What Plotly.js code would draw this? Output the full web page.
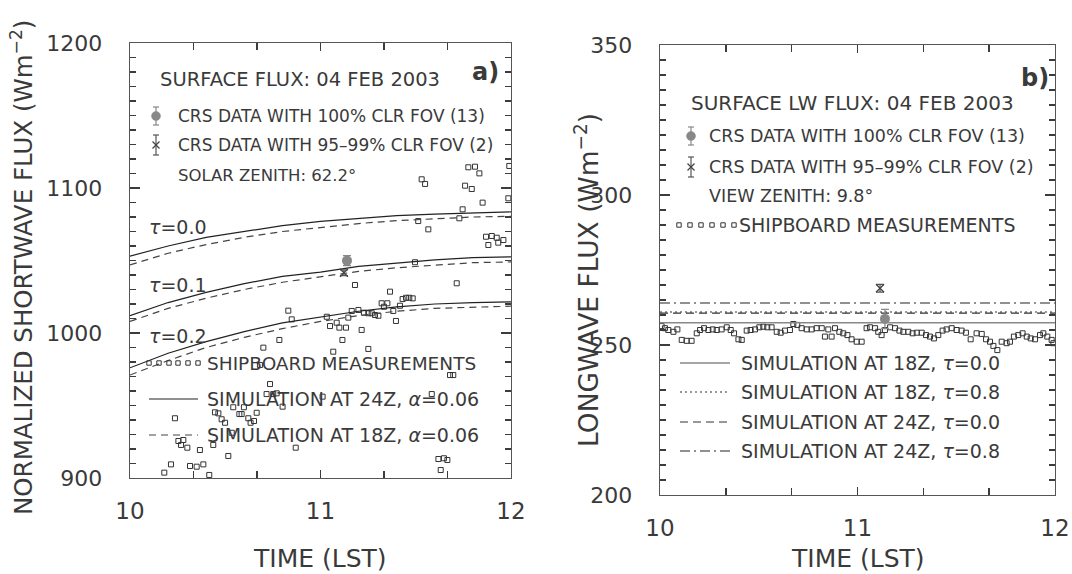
<!DOCTYPE html>
<html>
<head>
<meta charset="utf-8">
<script src="https://cdn.plot.ly/plotly-3.0.1.min.js"></script>
<style>
html,body{margin:0;padding:0;background:#fff;}
#chart{width:1072px;height:574px;}
</style>
</head>
<body>
<div id="chart"></div>
<script>
// ---------- DATA ----------
// Panel a) shipboard shortwave measurements
var shipT_sw = [11.531,11.549,11.776,11.811,11.834,11.759,11.794,11.851,11.746,11.986,11.991,11.513,11.729,11.566,11.869,11.899,11.925,11.960,11.881,11.933,
 11.496,11.181,11.715,11.365,11.431,11.449,11.466,11.484,10.831,10.849,11.033,11.164,11.199,11.146,11.228,11.251,11.269,11.286,11.304,11.321,
 11.351,11.333,11.382,11.417,11.396,11.050,11.085,11.099,11.134,11.216,11.115,10.784,10.700,11.067,11.251,10.682,11.680,11.697,10.735,10.717,
 10.752,10.770,10.801,11.011,11.584,10.236,10.446,10.464,10.481,10.499,10.542,10.574,10.586,10.598,10.621,10.633,10.651,10.665,10.534,10.254,
 10.280,10.268,10.301,10.367,10.437,10.516,10.870,10.215,10.180,10.315,10.350,10.385,10.416,11.619,11.648,11.666,11.631];
var shipV_sw = [1106.0,1102.8,1114.3,1114.7,1110.1,1101.6,1099.3,1089.9,1085.3,1092.9,1115.2,1077.2,1079.1,1071.5,1066.4,1066.9,1065.7,1064.1,1060.7,1062.3,
 1048.8,1033.1,1034.3,1028.5,1023.4,1024.3,1024.3,1023.9,1015.4,1009.4,1011.2,1015.2,1015.9,1010.6,1014.0,1013.6,1013.6,1012.4,1011.9,1020.5,
 1020.5,1018.1,1015.2,1018.8,1008.3,1004.8,1007.1,1003.7,1003.7,1002.1,995.2,995.2,989.9,987.1,989.0,977.9,971.0,971.0,964.8,957.9,
 957.9,958.4,949.2,956.1,957.9,941.2,945.3,944.6,940.5,938.1,948.8,944.1,944.1,948.8,941.2,938.1,939.3,945.0,931.2,925.5,
 926.2,922.8,920.9,919.3,922.8,915.2,920.9,909.4,903.7,908.3,907.8,909.4,902.1,913.1,913.6,912.4,905.5];

// Panel a) simulations (time grid and fluxes)
var simT_sw = [10.0,10.2,10.4,10.6,10.8,11.0,11.2,11.4,11.6,11.8,12.0];
var sw24_tau00 = [1053,1060,1066,1070,1074,1077,1079,1081,1082,1083,1083.5];
var sw18_tau00 = [1047,1055,1061,1066,1070,1073,1075.5,1077.5,1079,1080,1080.5];
var sw24_tau01 = [1012,1021,1028,1034,1039,1042,1046,1048.5,1050.5,1052,1052.5];
var sw18_tau01 = [1008,1017,1024,1030,1035,1039,1042.5,1045,1047,1048.5,1049];
var sw24_tau02 = [976,986,994,1001,1007,1011,1015,1018,1020,1021,1021.5];
var sw18_tau02 = [971,981,990,997,1003,1008,1012,1015,1017,1018,1018.5];

// Panel a) CRS data
var crsClrT_sw = [11.139], crsClrV_sw = [1049.9], crsClrE_sw = [3.5];
var crsPartT_sw = [11.123], crsPartV_sw = [1041.6], crsPartE_sw = [2.0];

// Panel b) shipboard longwave measurements
var shipT_lw = [10.008,10.025,10.042,10.068,10.088,10.110,10.135,10.160,10.186,10.203,10.223,10.245,10.267,10.287,10.312,10.338,10.358,10.375,10.397,10.414,
 10.439,10.459,10.481,10.503,10.523,10.543,10.565,10.591,10.611,10.633,10.658,10.675,10.695,10.717,10.743,10.768,10.793,10.819,10.835,10.852,
 10.869,10.886,10.908,10.928,10.949,10.970,10.996,11.021,11.046,11.063,11.089,11.105,11.122,11.139,11.165,11.190,11.212,11.232,11.257,11.279,
 11.300,11.325,11.347,11.367,11.387,11.409,11.431,11.451,11.477,11.502,11.527,11.549,11.573,11.603,11.629,11.651,11.671,11.688,11.708,11.730,
 11.755,11.772,11.792,11.814,11.836,11.857,11.877,11.899,11.924,11.941,11.961,11.983,11.992];
var shipV_lw = [256.3,255.6,255.0,254.4,255.2,251.7,251.4,251.4,253.9,255.0,255.6,255.0,255.2,255.0,255.2,255.9,255.0,253.9,251.9,251.7,
 254.8,255.0,255.2,255.9,256.1,255.9,255.9,254.4,254.1,254.8,255.0,257.0,256.7,255.6,255.2,255.2,255.6,255.6,252.8,255.2,
 252.8,255.6,254.4,253.9,253.3,251.9,251.1,251.1,255.6,255.9,255.6,254.4,253.3,255.0,255.9,255.6,254.8,254.4,254.4,253.9,
 254.1,254.1,253.3,252.8,252.2,253.3,254.8,255.2,255.6,255.0,254.8,254.1,251.9,253.9,253.7,251.9,251.1,249.7,248.3,251.1,
 250.6,251.1,252.8,253.3,253.9,252.8,252.2,251.9,253.3,253.9,252.8,251.7,250.6];

// Panel b) simulations (constant over the period)
var simT_lw = [10, 12];
var lw18_tau00 = [257.4, 257.4];
var lw18_tau08 = [261.0, 261.0];
var lw24_tau00 = [260.6, 260.6];
var lw24_tau08 = [264.0, 264.0];

// Panel b) CRS data
var crsClrT_lw = [11.139], crsClrV_lw = [258.7], crsClrE_lw = [3.2];
var crsPartT_lw = [11.114], crsPartV_lw = [268.9], crsPartE_lw = [1.3];

// Tick labels
var xTickVals = [10, 11, 12];
var xTickText = ['10', '11', '12'];
var xMinorVals = [10.33333, 10.66667, 11.33333, 11.66667];

// ---------- LAYOUT HELPERS ----------
var W = 1072, H = 574;
function px(x){ return x / W; }
function py(y){ return 1 - y / H; }
var TXT = '#3a3a3a';
var AX = '#3c3c3c';
var FONT = 'DejaVu Sans';

var traces = [];
function line(x, y, dash, color, xa, ya, w){
  traces.push({x:x, y:y, mode:'lines', xaxis:xa, yaxis:ya, hoverinfo:'skip',
    line:{color:color, width:w||1.2, dash:dash}, showlegend:false});
}
// Panel a
traces.push({x:shipT_sw, y:shipV_sw, mode:'markers', xaxis:'x', yaxis:'y', showlegend:false,
  marker:{symbol:'square-open', size:5, color:'#333', line:{width:1, color:'#333'}}});
line(simT_sw, sw24_tau00, 'solid', '#222', 'x', 'y');
line(simT_sw, sw18_tau00, '7px,5px', '#444', 'x', 'y');
line(simT_sw, sw24_tau01, 'solid', '#222', 'x', 'y');
line(simT_sw, sw18_tau01, '7px,5px', '#444', 'x', 'y');
line(simT_sw, sw24_tau02, 'solid', '#222', 'x', 'y');
line(simT_sw, sw18_tau02, '7px,5px', '#444', 'x', 'y');
traces.push({x:crsClrT_sw, y:crsClrV_sw, mode:'markers', xaxis:'x', yaxis:'y', showlegend:false,
  error_y:{type:'data', array:crsClrE_sw, color:'#888', thickness:1.3, width:4},
  marker:{symbol:'circle', size:10, color:'#888'}});
traces.push({x:crsPartT_sw, y:crsPartV_sw, mode:'markers', xaxis:'x', yaxis:'y', showlegend:false,
  error_y:{type:'data', array:crsPartE_sw, color:'#555', thickness:1.2, width:4},
  marker:{symbol:'x-thin-open', size:8, color:'#444', line:{width:1.3, color:'#444'}}});
// Panel b
traces.push({x:shipT_lw, y:shipV_lw, mode:'markers', xaxis:'x2', yaxis:'y2', showlegend:false,
  marker:{symbol:'square-open', size:5, color:'#333', line:{width:1, color:'#333'}}});
line(simT_lw, lw18_tau00, 'solid', '#888', 'x2', 'y2', 1.5);
line(simT_lw, lw18_tau08, '2px,3px', '#333', 'x2', 'y2');
line(simT_lw, lw24_tau00, '8px,5px', '#333', 'x2', 'y2');
line(simT_lw, lw24_tau08, '10px,4px,2px,4px', '#222', 'x2', 'y2');
traces.push({x:crsClrT_lw, y:crsClrV_lw, mode:'markers', xaxis:'x2', yaxis:'y2', showlegend:false,
  error_y:{type:'data', array:crsClrE_lw, color:'#888', thickness:1.3, width:4},
  marker:{symbol:'circle', size:10, color:'#888'}});
traces.push({x:crsPartT_lw, y:crsPartV_lw, mode:'markers', xaxis:'x2', yaxis:'y2', showlegend:false,
  error_y:{type:'data', array:crsPartE_lw, color:'#555', thickness:1.2, width:4},
  marker:{symbol:'x-thin-open', size:8, color:'#444', line:{width:1.3, color:'#444'}}});

// ---------- ANNOTATIONS ----------
var ann = [];
function T(text, x, y, size, opts){
  var a = {text:text, x:px(x), y:py(y), xref:'paper', yref:'paper', showarrow:false,
    xanchor:'left', yanchor:'middle', font:{family:FONT, size:size, color:TXT}};
  for (var k in (opts||{})) a[k] = opts[k];
  ann.push(a);
}
// panel a texts
T('SURFACE FLUX: 04 FEB 2003', 158, 80, 19.5);
T('<b>a)</b>', 501, 72, 24, {xanchor:'right'});
T('CRS DATA WITH 100% CLR FOV (13)', 176, 116, 17);
T('CRS DATA WITH 95–99% CLR FOV (2)', 176, 145, 17);
T('SOLAR ZENITH: 62.2°', 176, 175, 16.5);
T('<i>τ</i>=0.0', 147, 227, 19);
T('<i>τ</i>=0.1', 147, 285, 19);
T('<i>τ</i>=0.2', 147, 336, 19);
T('SHIPBOARD MEASUREMENTS', 205, 363, 18.5);
T('SIMULATION AT 24Z, <i>α</i>=0.06', 205, 399, 19);
T('SIMULATION AT 18Z, <i>α</i>=0.06', 205, 435, 19);
// panel b texts
T('<b>b)</b>', 1051, 78, 24, {xanchor:'right'});
T('SURFACE LW FLUX: 04 FEB 2003', 689, 103, 20);
T('CRS DATA WITH 100% CLR FOV (13)', 707, 136, 17.5);
T('CRS DATA WITH 95–99% CLR FOV (2)', 707, 167, 17.5);
T('VIEW ZENITH: 9.8°', 707, 196, 17.5);
T('SHIPBOARD MEASUREMENTS', 737, 225, 19);
T('SIMULATION AT 18Z, <i>τ</i>=0.0', 739, 363, 19);
T('SIMULATION AT 18Z, <i>τ</i>=0.8', 739, 392, 19);
T('SIMULATION AT 24Z, <i>τ</i>=0.0', 739, 422, 19);
T('SIMULATION AT 24Z, <i>τ</i>=0.8', 739, 451, 19);
// axis titles
T('NORMALIZED SHORTWAVE FLUX (Wm<sup>−2</sup>)', 22, 268, 24.5, {xanchor:'center', textangle:-90});
T('LONGWAVE FLUX (Wm<sup>−2</sup>)', 587, 280, 26.5, {xanchor:'center', textangle:-90});
T('TIME (LST)', 320, 558, 25, {xanchor:'center'});
T('TIME (LST)', 858, 558, 25, {xanchor:'center'});

// ---------- LEGEND GLYPHS (shapes) ----------
var shapes = [];
function seg(x0,y0,x1,y1,color,w,dash){
  shapes.push({type:'line', xref:'paper', yref:'paper', x0:px(x0), y0:py(y0), x1:px(x1), y1:py(y1),
    line:{color:color, width:w||1.2, dash:dash||'solid'}});
}
function errGlyph(x, yc, half, color){
  seg(x, yc-half, x, yc+half, color, 1.2);
  seg(x-3, yc-half, x+3, yc-half, color, 1.2);
  seg(x-3, yc+half, x+3, yc+half, color, 1.2);
}
function dot(x, y, r, color){
  shapes.push({type:'circle', xref:'paper', yref:'paper', x0:px(x-r), x1:px(x+r), y0:py(y-r), y1:py(y+r),
    fillcolor:color, line:{color:color, width:0.5}});
}
function cross(x, y, r, color){
  seg(x-r, y-r, x+r, y+r, color, 1.2);
  seg(x-r, y+r, x+r, y-r, color, 1.2);
}
function sq(x, y, r, color){
  shapes.push({type:'rect', xref:'paper', yref:'paper', x0:px(x-r), x1:px(x+r), y0:py(y-r), y1:py(y+r),
    line:{color:color, width:1}});
}
// panel a legend glyphs
errGlyph(156, 116, 9, '#888'); dot(156, 116, 4.5, '#888');
errGlyph(156, 145, 10, '#555'); cross(156, 145, 3.5, '#444');
[149, 159, 169, 178, 188, 198].forEach(function(x){ sq(x, 363, 2.2, '#333'); });
seg(149, 399, 198, 399, '#222', 1.2);
seg(149, 435, 198, 435, '#444', 1.2, '7px,5px');
// panel b legend glyphs
errGlyph(691, 136, 9, '#888'); dot(691, 136, 4.5, '#888');
errGlyph(691, 167, 10, '#555'); cross(691, 167, 3.5, '#444');
[679, 690, 701, 712, 723, 734].forEach(function(x){ sq(x, 225, 2.2, '#333'); });
seg(680, 363, 730, 363, '#888', 1.5);
seg(680, 392, 730, 392, '#333', 1.2, '2px,3px');
seg(680, 422, 730, 422, '#333', 1.2, '8px,5px');
seg(680, 451, 730, 451, '#222', 1.2, '10px,4px,2px,4px');

// ---------- AXES ----------
function xAxis(domain, anchor){
  return {domain:domain, anchor:anchor, range:[10,12], tickvals:xTickVals, ticktext:xTickText,
    ticks:'inside', ticklen:8, tickcolor:AX, tickwidth:1.5, showline:true, linecolor:'#555', linewidth:1.4,
    mirror:'ticks', showgrid:false, zeroline:false, ticklabelstandoff:12,
    minor:{tickvals:xMinorVals, ticks:'inside', ticklen:7, tickcolor:AX, tickwidth:1.5, showgrid:false},
    tickfont:{family:FONT, size:23, color:TXT}, fixedrange:true};
}
function yAxis(domain, anchor, range, dtick, mdtick){
  return {domain:domain, anchor:anchor, range:range, dtick:dtick,
    ticks:'inside', ticklen:10, tickcolor:AX, tickwidth:1.5, showline:true, linecolor:'#555', linewidth:1.4,
    mirror:'ticks', showgrid:false, zeroline:false, ticksuffix:'\u2002\u2002',
    minor:{dtick:mdtick, ticks:'inside', ticklen:6, tickcolor:AX, tickwidth:1.4, showgrid:false},
    tickfont:{family:FONT, size:22, color:TXT}, fixedrange:true};
}

var layout = {
  width:W, height:H, margin:{l:0, r:0, t:0, b:0},
  paper_bgcolor:'#fff', plot_bgcolor:'#fff', showlegend:false,
  xaxis: xAxis([px(130), px(511)], 'y'),
  yaxis: yAxis([py(478), py(43)], 'x', [900, 1200], 100, 10),
  xaxis2: xAxis([px(660), px(1055)], 'y2'),
  yaxis2: yAxis([py(495), py(45)], 'x2', [200, 350], 50, 5),
  annotations: ann,
  shapes: shapes,
  font:{family:FONT, color:TXT}
};

Plotly.newPlot('chart', traces, layout, {staticPlot:true, displayModeBar:false});
</script>
</body>
</html>
